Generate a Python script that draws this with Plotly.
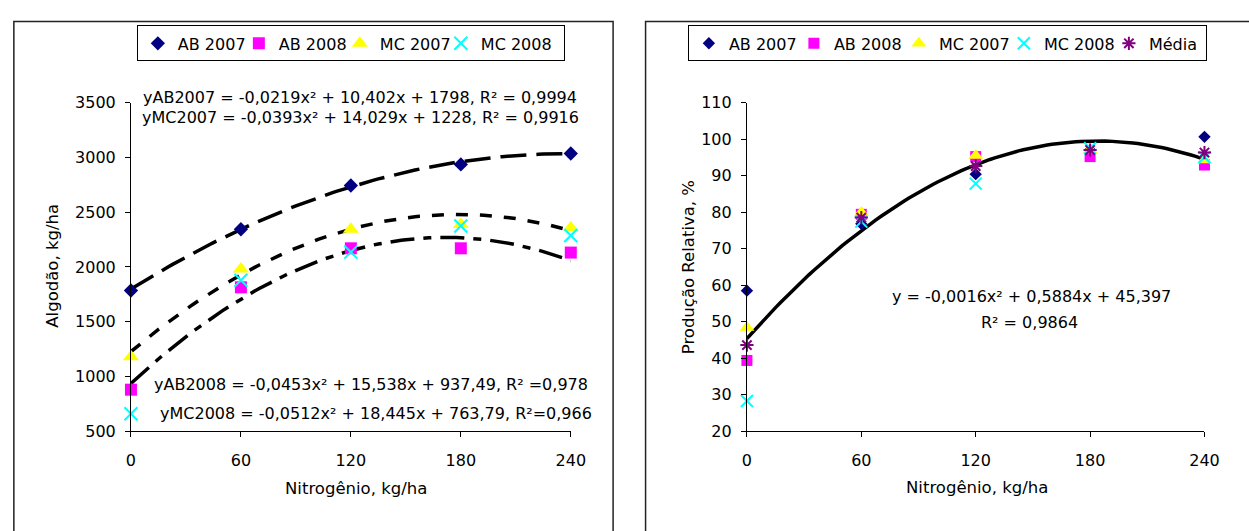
import numpy as np
import plotly.graph_objects as go

# ---------------- data ----------------
N_RATES = [0, 60, 120, 180, 240]

# Left chart: cotton yield, kg/ha
AB2007_Y = [1785, 2344, 2743, 2935, 3035]
AB2008_Y = [880, 1814, 2170, 2170, 2131]
MC2007_Y = [1180, 1980, 2344, 2388, 2358]
MC2008_Y = [660, 1878, 2135, 2373, 2286]

# Right chart: relative production, %
AB2007_R = [58.5, 76.8, 90.4, 97.0, 100.6]
AB2008_R = [39.4, 79.4, 95.2, 95.2, 92.9]
MC2007_R = [48.4, 79.9, 95.5, 97.0, 94.3]
MC2008_R = [28.3, 77.4, 87.8, 97.5, 95.0]
MEDIA_R = [43.6, 78.5, 92.6, 97.0, 96.3]

# Trend-line coefficients shown on the chart (a, b, c for a*x^2 + b*x + c)
COEF_AB2007 = [-0.0219, 10.402, 1798]
COEF_MC2007 = [-0.0393, 14.029, 1228]
COEF_AB2008 = [-0.0453, 15.538, 937.49]
COEF_MEDIA = [-0.0016, 0.5884, 45.397]

LEFT_YTICKS = [500, 1000, 1500, 2000, 2500, 3000, 3500]
RIGHT_YTICKS = [20, 30, 40, 50, 60, 70, 80, 90, 100, 110]

# ---------------- helpers ----------------
W, H = 1249, 531
FONT = "DejaVu Sans"


def px(x):
    return x / W


def py(y):
    return 1 - y / H


xs = np.linspace(0, 240, 97)


def quad(c):
    return c[0] * xs ** 2 + c[1] * xs + c[2]


NAVY, MAG, YEL, CYA, PUR = "#000080", "#FF00FF", "#FFFF00", "#00FFFF", "#800080"

fig = go.Figure()

# ---------- left chart ----------
trend_styles = [(COEF_AB2007, "26px,10px"), (COEF_MC2007, "12px,12px"),
                (COEF_AB2008, "24px,9px,8px,9px")]
for coef, dash in trend_styles:
    fig.add_trace(go.Scatter(x=xs, y=quad(coef), mode="lines", xaxis="x", yaxis="y",
                             line=dict(color="black", width=3.5, dash=dash),
                             showlegend=False, hoverinfo="skip"))

left_series = [
    ("AB 2007", AB2007_Y, dict(symbol="diamond", size=11, color=NAVY), 56),
    ("AB 2008", AB2008_Y, dict(symbol="square", size=12, color=MAG), 56),
    ("MC 2007", MC2007_Y, dict(symbol="triangle-up", size=14, color=YEL), 56),
    ("MC 2008", MC2008_Y, dict(symbol="x-thin-open", size=13, color=CYA,
                               line=dict(color=CYA, width=2)), 78),
]
for name, ys, mk, lw in left_series:
    fig.add_trace(go.Scatter(x=N_RATES, y=ys, mode="markers", name=name, marker=mk,
                             xaxis="x", yaxis="y", legend="legend", legendwidth=lw,
                             cliponaxis=False))

# ---------- right chart ----------
fig.add_trace(go.Scatter(x=xs, y=quad(COEF_MEDIA), mode="lines", xaxis="x2", yaxis="y2",
                         line=dict(color="black", width=3.5), showlegend=False,
                         hoverinfo="skip"))

right_series = [
    ("AB 2007", AB2007_R, dict(symbol="diamond", size=9.5, color=NAVY), 60),
    ("AB 2008", AB2008_R, dict(symbol="square", size=11, color=MAG), 60),
    ("MC 2007", MC2007_R, dict(symbol="triangle-up", size=13, color=YEL), 60),
    ("MC 2008", MC2008_R, dict(symbol="x-thin-open", size=12, color=CYA,
                               line=dict(color=CYA, width=2)), 60),
    ("Média", MEDIA_R, dict(symbol="asterisk-open", size=11, color=PUR,
                            line=dict(color=PUR, width=2)), 52),
]
for name, ys, mk, lw in right_series:
    fig.add_trace(go.Scatter(x=N_RATES, y=ys, mode="markers", name=name, marker=mk,
                             xaxis="x2", yaxis="y2", legend="legend2", legendwidth=lw,
                             cliponaxis=False))

axis_common = dict(showline=True, linecolor="black", linewidth=1, ticks="outside",
                   ticklen=5, tickwidth=1, tickcolor="black", showgrid=False,
                   zeroline=False, tickfont=dict(family=FONT, size=16, color="black"))

ydom = [py(438), py(97)]
legend_font = dict(family=FONT, size=16, color="black")
fig.update_layout(
    width=W, height=H, margin=dict(l=0, r=0, t=0, b=0),
    paper_bgcolor="white", plot_bgcolor="white",
    xaxis=dict(domain=[px(128), px(575)], range=[0, 240], tickvals=N_RATES,
               anchor="y", ticklabelstandoff=9, **axis_common),
    yaxis=dict(domain=ydom, range=[500, 3500], tickvals=LEFT_YTICKS, anchor="x",
               ticklabelstandoff=6, **axis_common),
    xaxis2=dict(domain=[px(754), px(1219)], range=[0, 240], tickvals=N_RATES,
                anchor="y2", ticklabelstandoff=9, **axis_common),
    yaxis2=dict(domain=ydom, range=[20, 110], tickvals=RIGHT_YTICKS, anchor="x2",
                ticklabelstandoff=6, **axis_common),
    legend=dict(orientation="h", x=px(134), y=py(17), xanchor="left", yanchor="top",
                bordercolor="black", borderwidth=1, bgcolor="white", itemwidth=30,
                font=legend_font),
    legend2=dict(orientation="h", x=px(694), y=py(17), xanchor="left", yanchor="top",
                 bordercolor="black", borderwidth=1, bgcolor="white", itemwidth=30,
                 font=legend_font),
    showlegend=True,
)

# panel borders
fig.add_shape(type="rect", xref="paper", yref="paper", x0=px(9), x1=px(618),
              y0=-0.2, y1=py(13), line=dict(color="#222222", width=1.5), layer="below")
fig.add_shape(type="rect", xref="paper", yref="paper", x0=px(651), x1=1.2,
              y0=-0.2, y1=py(13), line=dict(color="#222222", width=1.5), layer="below")


def ann(text, x, y, size=16, xanchor="center", angle=0):
    fig.add_annotation(text=text, x=px(x), y=py(y), xref="paper", yref="paper",
                       xanchor=xanchor, yanchor="middle", showarrow=False,
                       textangle=angle, font=dict(family=FONT, size=size, color="black"))


eqs = 16
ann("yAB2007 = -0,0219x² + 10,402x + 1798, R² = 0,9994", 361, 92, eqs)
ann("yMC2007 = -0,0393x² + 14,029x + 1228, R² = 0,9916", 361, 113, eqs)
ann("yAB2008 = -0,0453x² + 15,538x + 937,49, R² =0,978", 595, 389, eqs, "right")
ann("yMC2008 = -0,0512x² + 18,445x + 763,79, R²=0,966", 599, 419, eqs, "right")
ann("y = -0,0016x² + 0,5884x + 45,397", 1043, 298, eqs)
ann("R² = 0,9864", 1041, 325, eqs)

ann("Nitrogênio, kg/ha", 357, 497, 16.5)
ann("Nitrogênio, kg/ha", 988, 496, 16.5)
ann("Algodão, kg/ha", 48, 266, 16.5, angle=-90)
ann("Produção Relativa, %", 695, 268, 16.5, angle=-90)

fig.write_html("out.html")
